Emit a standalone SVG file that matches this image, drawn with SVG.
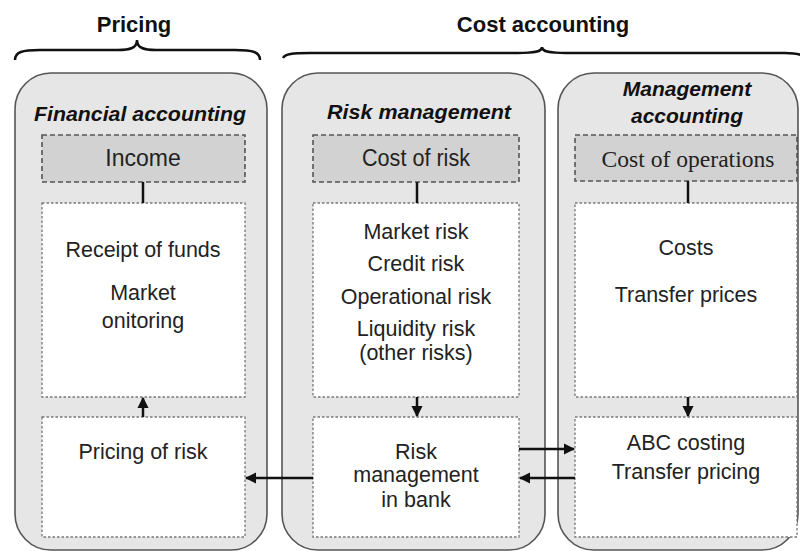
<svg xmlns="http://www.w3.org/2000/svg" width="800" height="551" viewBox="0 0 800 551">
<defs>
<style>
.outer{fill:#e6e6e6;stroke:#555;stroke-width:1.6}
.hdr{fill:#d2d2d2;stroke:#555;stroke-width:1.6;stroke-dasharray:5 3}
.cnt{fill:#fff;stroke:#777;stroke-width:1.3;stroke-dasharray:2.5 2}
.t{font-family:"Liberation Sans",Arial,sans-serif;font-size:21.5px;fill:#222;text-anchor:middle}
.big{font-size:23px}
.serif{font-family:"Liberation Serif","Times New Roman",serif;font-size:22.5px;fill:#222;text-anchor:middle}
.title{font-family:"Liberation Sans",Arial,sans-serif;font-size:21px;font-weight:bold;font-style:italic;fill:#111;text-anchor:middle}
.head{font-family:"Liberation Sans",Arial,sans-serif;font-size:22px;font-weight:bold;fill:#111;text-anchor:middle}
.brace{fill:none;stroke:#111;stroke-width:2.5}
.ln{stroke:#111;stroke-width:2.5;fill:none}
</style>
<marker id="ah" viewBox="0 0 10 10" refX="9" refY="5" markerWidth="4.5" markerHeight="4.5" orient="auto" markerUnits="strokeWidth">
<path d="M0,0 L10,5 L0,10 z" fill="#111"/>
</marker>
</defs>

<g id="heading-pricing">
<text class="head" x="134" y="32">Pricing</text>
<path class="brace" d="M15,60 C15,52 22,50 40,50 L118,50 C130,50 137,48 137,40 C137,48 144,50 156,50 L235,50 C253,50 260,52 260,60"/>
</g>
<g id="heading-cost">
<text class="head" x="543" y="32">Cost accounting</text>
<path class="brace" d="M283,58 C285,54 292,53 310,53 L518,53 C534,53 542,52 542,47 C542,52 550,53 566,53 L785,53 C796,53 800,54 803,56"/>
</g>

<g id="financial-accounting">
<rect class="outer" x="15" y="73" width="252" height="477" rx="36"/>
<text class="title" x="140" y="121" textLength="212" lengthAdjust="spacingAndGlyphs">Financial accounting</text>
</g>
<g id="risk-management">
<rect class="outer" x="282" y="73" width="263" height="477" rx="36"/>
<text class="title" x="419" y="119" textLength="184" lengthAdjust="spacingAndGlyphs">Risk management</text>
</g>
<g id="management-accounting">
<rect class="outer" x="558" y="73" width="240" height="477" rx="36"/>
<text class="title" x="687" y="96">Management</text>
<text class="title" x="687" y="123">accounting</text>
</g>

<g id="income">
<rect class="hdr" x="42" y="135" width="203" height="47"/>
<text class="t big" x="143" y="166">Income</text>
</g>
<g id="cost-of-risk">
<rect class="hdr" x="313" y="135" width="206" height="47"/>
<text class="t big" x="416" y="166" textLength="108" lengthAdjust="spacingAndGlyphs">Cost of risk</text>
</g>
<g id="cost-of-operations">
<rect class="hdr" x="575" y="135" width="222" height="46"/>
<text class="serif" x="688" y="167" textLength="173" lengthAdjust="spacingAndGlyphs">Cost of operations</text>
</g>

<g id="receipt">
<rect class="cnt" x="42" y="203" width="203" height="194"/>
<text class="t" x="143" y="257" textLength="155" lengthAdjust="spacingAndGlyphs">Receipt of funds</text>
<text class="t" x="143" y="300">Market</text>
<text class="t" x="143" y="328">onitoring</text>
</g>
<g id="risks">
<rect class="cnt" x="313" y="203" width="206" height="194"/>
<text class="t" x="416" y="239">Market risk</text>
<text class="t" x="416" y="271">Credit risk</text>
<text class="t" x="416" y="304">Operational risk</text>
<text class="t" x="416" y="336">Liquidity risk</text>
<text class="t" x="416" y="360">(other risks)</text>
</g>
<g id="costs">
<rect class="cnt" x="575" y="203" width="222" height="194"/>
<text class="t" x="686" y="255">Costs</text>
<text class="t" x="686" y="302">Transfer prices</text>
</g>

<g id="pricing-of-risk">
<rect class="cnt" x="42" y="417" width="203" height="120"/>
<text class="t" x="143" y="459">Pricing of risk</text>
</g>
<g id="risk-mgmt-bank">
<rect class="cnt" x="313" y="417" width="206" height="120"/>
<text class="t" x="416" y="459">Risk</text>
<text class="t" x="416" y="482">management</text>
<text class="t" x="416" y="507">in bank</text>
</g>
<g id="abc-costing">
<rect class="cnt" x="575" y="417" width="222" height="120"/>
<text class="t" x="686" y="450">ABC costing</text>
<text class="t" x="686" y="479">Transfer pricing</text>
</g>

<g id="connectors">
<line class="ln" x1="143" y1="182" x2="143" y2="203"/>
<line class="ln" x1="417" y1="182" x2="417" y2="203"/>
<line class="ln" x1="688" y1="181" x2="688" y2="203"/>
<line class="ln" x1="143" y1="417" x2="143" y2="398" marker-end="url(#ah)"/>
<line class="ln" x1="417" y1="397" x2="417" y2="416" marker-end="url(#ah)"/>
<line class="ln" x1="688" y1="397" x2="688" y2="416" marker-end="url(#ah)"/>
<line class="ln" x1="313" y1="478" x2="246" y2="478" marker-end="url(#ah)"/>
<line class="ln" x1="519" y1="449" x2="574" y2="449" marker-end="url(#ah)"/>
<line class="ln" x1="575" y1="478" x2="520" y2="478" marker-end="url(#ah)"/>
</g>
</svg>
